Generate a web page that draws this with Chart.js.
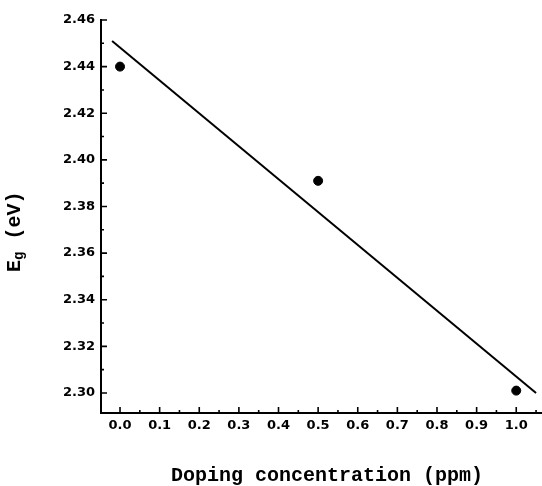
<!DOCTYPE html>
<html>
<head>
<meta charset="utf-8">
<script src="https://cdn.jsdelivr.net/npm/chart.js@4.4.0/dist/chart.umd.min.js"></script>
<style>
  body { margin: 0; background: #fff; }
  canvas { display: block; }
</style>
</head>
<body>
<canvas id="bandGap" width="542" height="486"></canvas>
<script>
// Measured band gap vs doping concentration
const dopingPpm = [0.0, 0.5, 1.0];
const bandGapEv = [2.44, 2.391, 2.301];

// Fitted straight line, end points
const fitX = [-0.02, 1.05];
const fitY = [2.451, 2.300];

// Axis ticks
const xTickValues = [0.0, 0.1, 0.2, 0.3, 0.4, 0.5, 0.6, 0.7, 0.8, 0.9, 1.0];
const xMinorTicks = [0.05, 0.15, 0.25, 0.35, 0.45, 0.55, 0.65, 0.75, 0.85, 0.95, 1.05];
const yTickValues = [2.30, 2.32, 2.34, 2.36, 2.38, 2.40, 2.42, 2.44, 2.46];
const yMinorTicks = [2.31, 2.33, 2.35, 2.37, 2.39, 2.41, 2.43, 2.45];

const xTitle = 'Doping concentration (ppm)';

// Draws the inward ticks and the two axis titles
const axisDecor = {
    id: 'axisDecor',
    afterDraw(chart) {
        const ctx = chart.ctx;
        const x = chart.scales.x;
        const y = chart.scales.y;
        const area = chart.chartArea;

        ctx.save();
        ctx.strokeStyle = '#000';
        ctx.lineWidth = 1.6;
        ctx.beginPath();
        xTickValues.forEach(v => {
            const px = x.getPixelForValue(v);
            ctx.moveTo(px, area.bottom);
            ctx.lineTo(px, area.bottom - 6);
        });
        xMinorTicks.forEach(v => {
            const px = x.getPixelForValue(v);
            ctx.moveTo(px, area.bottom);
            ctx.lineTo(px, area.bottom - 3);
        });
        yTickValues.forEach(v => {
            const py = y.getPixelForValue(v);
            ctx.moveTo(area.left, py);
            ctx.lineTo(area.left + 6, py);
        });
        yMinorTicks.forEach(v => {
            const py = y.getPixelForValue(v);
            ctx.moveTo(area.left, py);
            ctx.lineTo(area.left + 3, py);
        });
        ctx.stroke();

        // x axis title
        ctx.fillStyle = '#000';
        ctx.font = 'bold 20px "Liberation Mono", monospace';
        ctx.textAlign = 'center';
        ctx.textBaseline = 'alphabetic';
        ctx.fillText(xTitle, 327, 481);

        // y axis title: E with subscript g, then (eV)
        ctx.translate(20, 231);
        ctx.rotate(-Math.PI / 2);
        ctx.textAlign = 'left';
        let cx = -41;
        ctx.font = 'bold 20px "Liberation Mono", monospace';
        ctx.fillText('E', cx, 0);
        cx += ctx.measureText('E').width;
        ctx.font = 'bold 14px "Liberation Mono", monospace';
        ctx.fillText('g', cx, 3);
        cx += ctx.measureText('g').width;
        ctx.font = 'bold 20px "Liberation Mono", monospace';
        ctx.fillText(' (eV)', cx, 0);
        ctx.restore();
    }
};

const tickFont = { family: '"DejaVu Sans", sans-serif', size: 13, weight: 'bold' };

new Chart(document.getElementById('bandGap'), {
    type: 'scatter',
    data: {
        datasets: [
            {
                label: 'fit',
                data: fitX.map((v, i) => ({ x: v, y: fitY[i] })),
                showLine: true,
                borderColor: '#000',
                borderWidth: 2,
                pointRadius: 0,
                fill: false
            },
            {
                label: 'measured',
                data: dopingPpm.map((v, i) => ({ x: v, y: bandGapEv[i] })),
                backgroundColor: '#000',
                borderColor: '#000',
                pointRadius: 4.5,
                showLine: false
            }
        ]
    },
    options: {
        responsive: false,
        animation: false,
        layout: {
            autoPadding: false,
            padding: { top: 20, right: 0, left: 0, bottom: 0 }
        },
        plugins: {
            legend: { display: false },
            tooltip: { enabled: false }
        },
        scales: {
            x: {
                type: 'linear',
                min: -0.048,
                max: 1.065,
                grid: { display: false, drawTicks: false },
                border: { display: true, color: '#000', width: 2 },
                afterBuildTicks: scale => {
                    scale.ticks = xTickValues.map(v => ({ value: v }));
                },
                afterFit: scale => {
                    scale.height = 73;
                    scale.paddingLeft = 0;
                    scale.paddingRight = 0;
                },
                ticks: {
                    color: '#000',
                    font: tickFont,
                    padding: 5,
                    maxRotation: 0,
                    autoSkip: false,
                    callback: v => Number(v).toFixed(1)
                }
            },
            y: {
                type: 'linear',
                min: 2.2914,
                max: 2.46,
                grid: { display: false, drawTicks: false },
                border: { display: true, color: '#000', width: 2 },
                afterBuildTicks: scale => {
                    scale.ticks = yTickValues.map(v => ({ value: v }));
                },
                afterFit: scale => { scale.width = 101; },
                ticks: {
                    color: '#000',
                    font: tickFont,
                    padding: 6,
                    autoSkip: false,
                    callback: v => Number(v).toFixed(2)
                }
            }
        }
    },
    plugins: [axisDecor]
});
</script>
</body>
</html>
